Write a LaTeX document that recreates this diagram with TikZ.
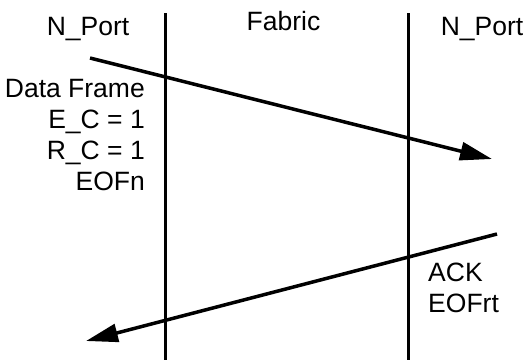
\documentclass[tikz,border=0pt]{standalone}
\usepackage{fontspec}
\setmainfont{Liberation Sans}
\usetikzlibrary{arrows.meta}
\begin{document}
\begin{tikzpicture}[x=1pt,y=-1pt,
  lbl/.style={inner sep=0pt,font=\fontsize{26.5}{31}\selectfont},
  lifeline/.style={line width=3pt},
  msg/.style={line width=3.5pt,-{Triangle[length=32pt,width=18pt]}}]
\useasboundingbox (0,0) rectangle (526,360);
% lifelines
\coordinate (lt) at (165,13);
\coordinate (lb) at (165,360);
\coordinate (rt) at (408,13);
\coordinate (rb) at (408,360);
\draw[lifeline] (lt) -- (lb);
\draw[lifeline] (rt) -- (rb);
% headings
\node[lbl,anchor=base] (np1) at (88,35) {N\_Port};
\node[lbl,anchor=base] (fab) at (283.5,30) {Fabric};
\node[lbl,anchor=base] (np2) at (482,35) {N\_Port};
% messages
\coordinate (d0) at (90,58);
\coordinate (d1) at (492,159);
\draw[msg] (d0) -- (d1);
\coordinate (a0) at (497,234);
\coordinate (a1) at (86,341);
\draw[msg] (a0) -- (a1);
% message labels (base anchor sits on the last line)
\node[lbl,anchor=base east,align=right] (dlab) at (145,190)
  {Data Frame\\E\_C = 1\\R\_C = 1\\EOFn};
\node[lbl,anchor=base west,align=left] (alab) at (428,312)
  {ACK\\EOFrt};
\end{tikzpicture}
\end{document}
